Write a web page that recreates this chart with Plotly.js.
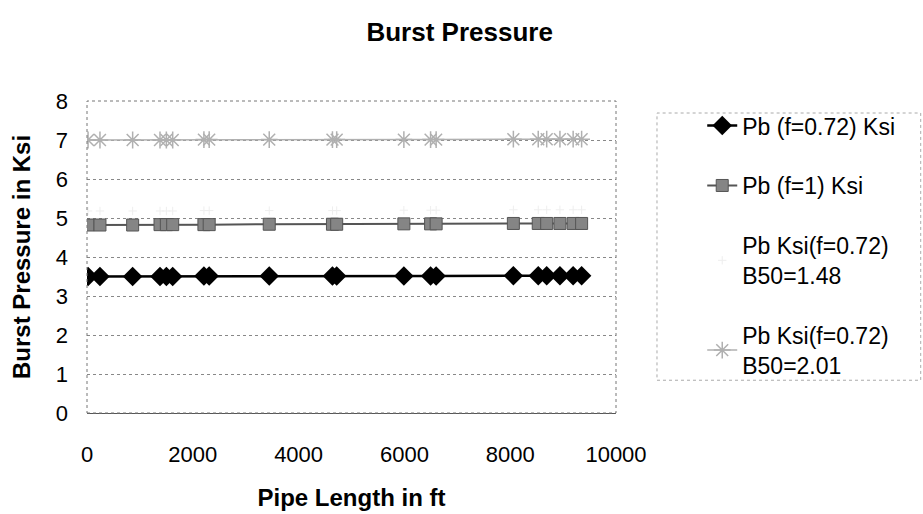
<!DOCTYPE html>
<html>
<head>
<meta charset="utf-8">
<script src="https://cdn.plot.ly/plotly-3.0.1.min.js"></script>
<style>html,body{margin:0;padding:0;background:#fff;}#chart{width:923px;height:514px;}</style>
</head>
<body>
<div id="chart"></div>
<script>
// Pipe length positions (ft)
const pipeLength = [20, 245, 863, 1380, 1500, 1620, 2210, 2310, 3445, 4640, 4720, 5990, 6495, 6600, 8060, 8530, 8690, 8940, 9190, 9350];
// Burst pressure series (Ksi)
const pbF072 = [3.50, 3.50, 3.50, 3.50, 3.50, 3.50, 3.51, 3.51, 3.51, 3.51, 3.51, 3.51, 3.51, 3.51, 3.52, 3.52, 3.52, 3.52, 3.52, 3.52];
const pbF1 = [4.82, 4.82, 4.82, 4.83, 4.83, 4.83, 4.83, 4.83, 4.84, 4.84, 4.84, 4.85, 4.85, 4.85, 4.86, 4.86, 4.86, 4.86, 4.86, 4.86];
const pbB50_148 = [5.18, 5.18, 5.18, 5.18, 5.18, 5.18, 5.19, 5.19, 5.19, 5.19, 5.19, 5.20, 5.20, 5.20, 5.21, 5.21, 5.21, 5.21, 5.21, 5.21];
const pbB50_201 = [7.00, 7.00, 7.00, 7.00, 7.00, 7.00, 7.01, 7.01, 7.01, 7.01, 7.01, 7.01, 7.01, 7.01, 7.02, 7.02, 7.02, 7.02, 7.02, 7.02];
const seriesNames = ["Pb (f=0.72) Ksi", "Pb (f=1) Ksi", "Pb Ksi(f=0.72)<br>B50=1.48", "Pb Ksi(f=0.72)<br>B50=2.01"];
const xTicks = [0, 2000, 4000, 6000, 8000, 10000];
const yTicks = [0, 1, 2, 3, 4, 5, 6, 7, 8];

const FONT = "Liberation Sans, Arial, sans-serif";

const traces = [
  {x: pipeLength, y: pbF072, name: seriesNames[0], mode: "lines+markers", legendgroup: "a",
   line: {color: "#000", width: 2.5}, marker: {symbol: "diamond", size: 15, color: "#000"}},
  {x: pipeLength, y: pbF1, name: seriesNames[1], mode: "lines+markers", legendgroup: "b",
   line: {color: "#555", width: 2}, marker: {symbol: "square", size: 12, color: "#858585", line: {color: "#555", width: 1}}},
  {x: pipeLength, y: pbB50_148, name: seriesNames[2], mode: "markers", legendgroup: "c",
   marker: {symbol: "cross-thin-open", size: 6, color: "#eeeeee", line: {color: "#eeeeee", width: 1}}},
  {x: pipeLength, y: pbB50_201, name: seriesNames[3], mode: "lines+markers", legendgroup: "d",
   line: {color: "#b0b0b0", width: 1.5}, marker: {symbol: "asterisk-open", size: 14, color: "#b0b0b0", line: {color: "#b0b0b0", width: 1.5}}}
];

const layout = {
  width: 923, height: 514,
  margin: {l: 87, r: 307, t: 101, b: 101, pad: 0},
  paper_bgcolor: "#fff", plot_bgcolor: "#fff",
  font: {family: FONT, color: "#000", size: 22},
  showlegend: true,
  title: {text: "<b>Burst Pressure</b>", x: 0.498, xref: "container", xanchor: "center", y: 1 - 32 / 514, yref: "container", yanchor: "middle",
          font: {family: FONT, size: 26, color: "#000"}},
  xaxis: {range: [0, 10000], tickvals: xTicks, ticktext: xTicks.map(String), showgrid: false, zeroline: false,
          showline: true, linecolor: "#555", linewidth: 1, ticks: "", ticklabelstandoff: 22,
          tickfont: {family: FONT, size: 22, color: "#000"},
          title: {text: "<b>Pipe Length in ft</b>", standoff: 22, font: {family: FONT, size: 24, color: "#000"}}},
  yaxis: {range: [0, 8], tickvals: yTicks, ticktext: yTicks.map(String), showgrid: true, gridcolor: "#888", griddash: "dot", gridwidth: 1,
          zeroline: false, showline: false, ticks: "", ticklabelstandoff: 18,
          tickfont: {family: FONT, size: 22, color: "#000"},
          title: {text: "<b>Burst Pressure in Ksi</b>", standoff: 18, font: {family: FONT, size: 24, color: "#000"}}},
  legend: {x: 1.163, xanchor: "left", y: 0.99, yanchor: "top", traceorder: "grouped", tracegroupgap: 27,
           borderwidth: 0, bgcolor: "rgba(0,0,0,0)", itemwidth: 30,
           font: {family: FONT, size: 23, color: "#000"}},
  shapes: [
    {type: "rect", xref: "paper", yref: "paper", x0: 0, x1: 1, y0: 0, y1: 1, line: {color: "#777", width: 1, dash: "dot"}},
    {type: "rect", xref: "paper", yref: "paper", x0: 1.0775, x1: 1.576, y0: 0.105, y1: 0.9615, layer: "below",
     line: {color: "#aaa", width: 1, dash: "dot"}}
  ]
};

Plotly.newPlot("chart", traces, layout, {displayModeBar: false, staticPlot: true});
</script>
</body>
</html>
